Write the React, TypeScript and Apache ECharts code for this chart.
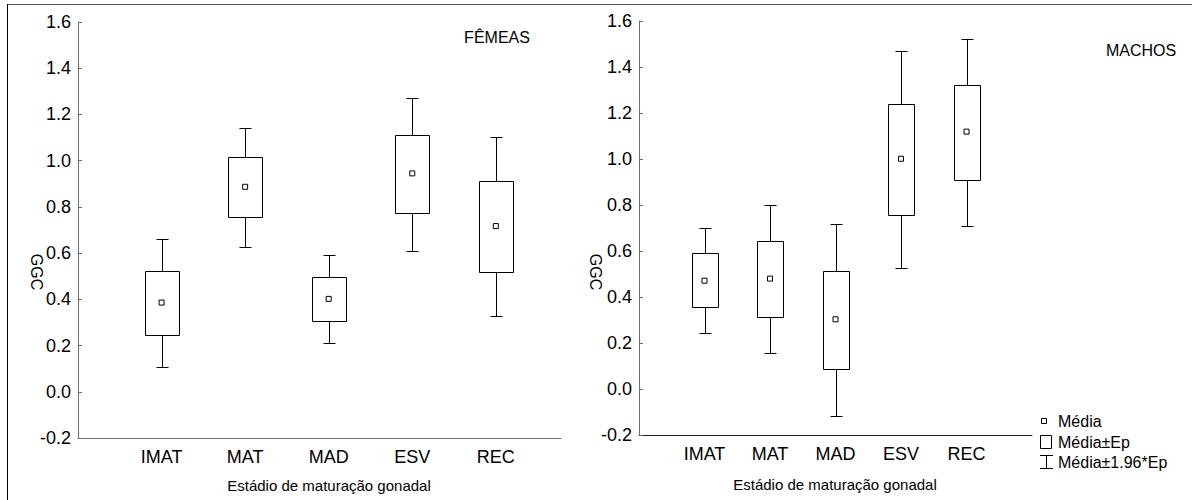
import React, { useEffect, useRef } from "react";
import * as echarts from "echarts";

const CATEGORIES = ["IMAT", "MAT", "MAD", "ESV", "REC"];

// Fêmeas
const F_MEAN = [0.386, 0.887, 0.402, 0.945, 0.717];
const F_BOX_LOW = [0.246, 0.755, 0.305, 0.775, 0.518];
const F_BOX_HIGH = [0.524, 1.018, 0.498, 1.11, 0.912];
const F_WHISK_LOW = [0.109, 0.628, 0.21, 0.611, 0.329];
const F_WHISK_HIGH = [0.661, 1.142, 0.592, 1.272, 1.102];

// Machos
const M_MEAN = [0.471, 0.48, 0.303, 1.001, 1.119];
const M_BOX_LOW = [0.355, 0.314, 0.087, 0.757, 0.907];
const M_BOX_HIGH = [0.59, 0.643, 0.512, 1.239, 1.323];
const M_WHISK_LOW = [0.242, 0.157, -0.117, 0.525, 0.707];
const M_WHISK_HIGH = [0.701, 0.8, 0.716, 1.471, 1.523];

const Y_MIN = -0.2;
const Y_MAX = 1.6;
const Y_STEP = 0.2;

const FONT = "Liberation Sans";
const BOX_FRAC = 0.405;
const CAP_HALF = 6;

const r = (v: number) => Math.round(v) + 0.5;

function renderItem(params: any, api: any) {
  const x = api.value(0);
  const wl = api.coord([x, api.value(1)]);
  const bl = api.coord([x, api.value(2)]);
  const bh = api.coord([x, api.value(3)]);
  const wh = api.coord([x, api.value(4)]);
  const bw = api.size([BOX_FRAC, 0])[0];
  const half = Math.round(bw / 2);
  const cx = r(wl[0]);
  const st = { stroke: "#000", lineWidth: 1, fill: null };
  return {
    type: "group",
    children: [
      { type: "line", shape: { x1: cx, y1: r(bh[1]), x2: cx, y2: r(wh[1]) }, style: st },
      { type: "line", shape: { x1: cx - CAP_HALF, y1: r(wh[1]), x2: cx + CAP_HALF, y2: r(wh[1]) }, style: st },
      { type: "line", shape: { x1: cx, y1: r(bl[1]), x2: cx, y2: r(wl[1]) }, style: st },
      { type: "line", shape: { x1: cx - CAP_HALF, y1: r(wl[1]), x2: cx + CAP_HALF, y2: r(wl[1]) }, style: st },
      {
        type: "rect",
        shape: { x: cx - half, y: r(bh[1]), width: 2 * half, height: r(bl[1]) - r(bh[1]) },
        style: { stroke: "#000", lineWidth: 1, fill: "#fff" },
      },
    ],
  };
}

function boxData(wl: number[], bl: number[], bh: number[], wh: number[]) {
  return CATEGORIES.map((_, i) => [i + 1, wl[i], bl[i], bh[i], wh[i]]);
}

function xAxisFor(gridIndex: number, max: number) {
  return {
    type: "value",
    gridIndex,
    min: 0,
    max,
    interval: 1,
    axisLine: { show: true, onZero: false, lineStyle: { color: gridIndex === 0 ? "#6e6e6e" : "#222", width: 1 } },
    axisTick: { show: false },
    splitLine: { show: false },
    axisLabel: {
      margin: 10,
      color: "#000",
      fontSize: 18,
      fontFamily: FONT,
      showMinLabel: true,
      showMaxLabel: true,
      formatter: (v: number) => {
        const i = Math.round(v) - 1;
        if (Math.abs(v - Math.round(v)) > 1e-6) return "";
        return CATEGORIES[i] || "";
      },
    },
  };
}

function yAxisFor(gridIndex: number) {
  return {
    type: "value",
    gridIndex,
    min: Y_MIN,
    max: Y_MAX,
    interval: Y_STEP,
    axisLine: { show: true, onZero: false, lineStyle: { color: "#6e6e6e", width: 1 } },
    axisTick: { show: true, inside: true, length: 4, lineStyle: { color: "#6e6e6e" } },
    splitLine: { show: false },
    axisLabel: {
      margin: 7,
      color: "#000",
      fontSize: 18,
      fontFamily: FONT,
      formatter: (v: number) => v.toFixed(1),
    },
  };
}

export default function App() {
  const ref = useRef<HTMLDivElement>(null);
  useEffect(() => {
    if (!ref.current) return;
    const chart = echarts.init(ref.current, null, { renderer: "svg" });
    const txt = (text: string, x: number, y: number, size: number, extra: any = {}) => {
      const { align, ...rest } = extra;
      return {
        type: "text",
        x,
        y,
        ...rest,
        style: {
          text,
          fill: "#000",
          fontSize: size,
          fontFamily: FONT,
          align: align || "center",
          verticalAlign: "middle",
        },
      };
    };
    const lineSt = { stroke: "#000", lineWidth: 1 };
    chart.setOption({
      animation: false,
      backgroundColor: "#fff",
      grid: [
        { left: 78, top: 22, width: 483, height: 416 },
        { left: 639, top: 21, width: 393, height: 414 },
      ],
      xAxis: [xAxisFor(0, 5.78), xAxisFor(1, 6)],
      yAxis: [yAxisFor(0), yAxisFor(1)],
      series: [
        {
          type: "custom",
          xAxisIndex: 0,
          yAxisIndex: 0,
          renderItem,
          encode: { x: 0, y: [1, 2, 3, 4] },
          data: boxData(F_WHISK_LOW, F_BOX_LOW, F_BOX_HIGH, F_WHISK_HIGH),
          z: 2,
        },
        {
          type: "scatter",
          xAxisIndex: 0,
          yAxisIndex: 0,
          symbol: "rect",
          symbolSize: 5,
          itemStyle: { color: "#fff", borderColor: "#000", borderWidth: 1, opacity: 1 },
          data: F_MEAN.map((v, i) => [i + 1, v]),
          z: 3,
        },
        {
          type: "custom",
          xAxisIndex: 1,
          yAxisIndex: 1,
          renderItem,
          encode: { x: 0, y: [1, 2, 3, 4] },
          data: boxData(M_WHISK_LOW, M_BOX_LOW, M_BOX_HIGH, M_WHISK_HIGH),
          z: 2,
        },
        {
          type: "scatter",
          xAxisIndex: 1,
          yAxisIndex: 1,
          symbol: "rect",
          symbolSize: 5,
          itemStyle: { color: "#fff", borderColor: "#000", borderWidth: 1, opacity: 1 },
          data: M_MEAN.map((v, i) => [i + 1, v]),
          z: 3,
        },
      ],
      graphic: [
        { type: "line", shape: { x1: 7, y1: 4.5, x2: 1192, y2: 4.5 }, style: { stroke: "#555", lineWidth: 1 } },
        { type: "line", shape: { x1: 7.5, y1: 4, x2: 7.5, y2: 500 }, style: { stroke: "#000", lineWidth: 1 } },
        txt("FÊMEAS", 497, 37, 16),
        txt("MACHOS", 1141, 50, 16),
        txt("GGC", 36, 272, 16, { rotation: -Math.PI / 2 }),
        txt("GGC", 595, 272, 16, { rotation: -Math.PI / 2 }),
        txt("Estádio de maturação gonadal", 329, 485, 15),
        txt("Estádio de maturação gonadal", 835, 484, 15),
        // legend
        { type: "rect", shape: { x: 1041.5, y: 418.5, width: 5, height: 5 }, style: { stroke: "#000", fill: "#fff", lineWidth: 1 } },
        txt("Média", 1058, 421, 16, { align: "left" }),
        { type: "rect", shape: { x: 1040.5, y: 435.5, width: 11, height: 13 }, style: { stroke: "#000", fill: "#fff", lineWidth: 1 } },
        txt("Média±Ep", 1058, 442, 16, { align: "left" }),
        { type: "line", shape: { x1: 1046.5, y1: 455, x2: 1046.5, y2: 469 }, style: lineSt },
        { type: "line", shape: { x1: 1040, y1: 455.5, x2: 1053, y2: 455.5 }, style: lineSt },
        { type: "line", shape: { x1: 1040, y1: 468.5, x2: 1053, y2: 468.5 }, style: lineSt },
        txt("Média±1.96*Ep", 1058, 462, 16, { align: "left" }),
      ],
    });
    return () => chart.dispose();
  }, []);
  return (
    <div
      ref={ref}
      style={{ position: "fixed", left: 0, top: 0, width: 1192, height: 500, background: "#fff" }}
    />
  );
}
